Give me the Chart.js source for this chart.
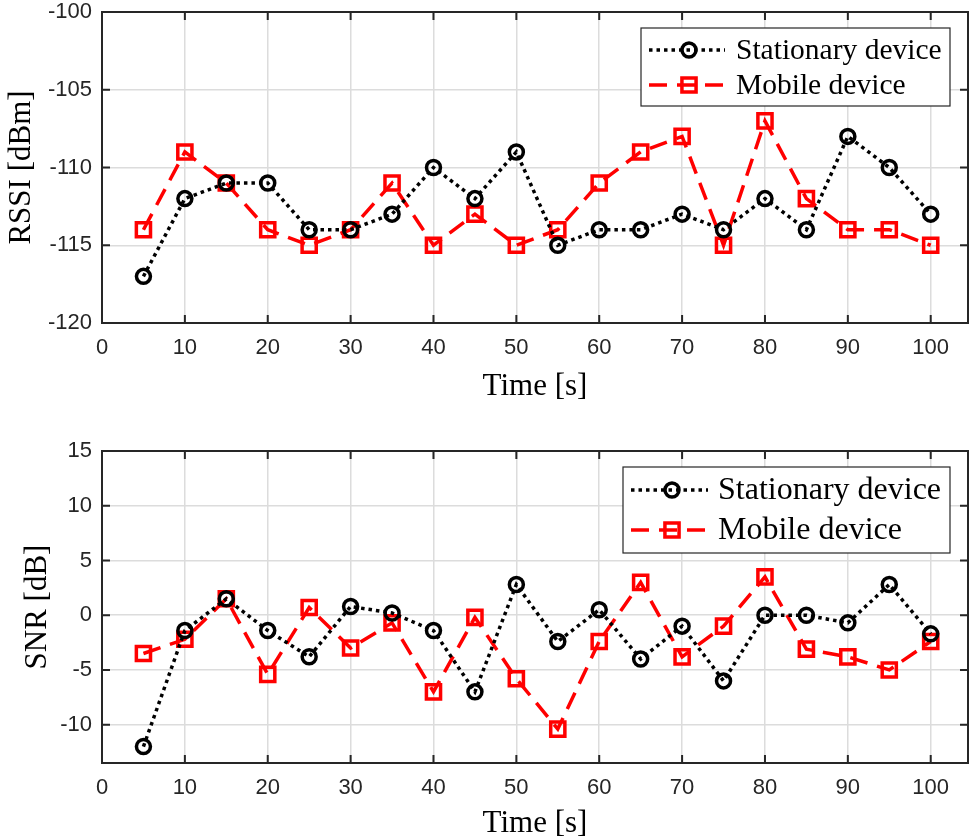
<!DOCTYPE html>
<html>
<head>
<meta charset="utf-8">
<title>RSSI and SNR</title>
<script src="https://cdn.jsdelivr.net/npm/chart.js@4.4.1/dist/chart.umd.min.js"></script>
<style>
    html, body { margin: 0; padding: 0; background: #fff; }
    #wrap { position: relative; width: 970px; height: 840px; }
    #wrap canvas { position: absolute; left: 0; }
</style>
</head>
<body>
<div id="wrap">
    <canvas id="rssi" width="970" height="420" style="top:0"></canvas>
    <canvas id="snr" width="970" height="420" style="top:420px"></canvas>
</div>
<script>
// measurement times
var timeSec = [5, 10, 15, 20, 25, 30, 35, 40, 45, 50, 55, 60, 65, 70, 75, 80, 85, 90, 95, 100];

// RSSI [dBm]
var rssiStationary = [-117, -112, -111, -111, -114, -114, -113, -110, -112, -109, -115, -114, -114, -113, -114, -112, -114, -108, -110, -113];
var rssiMobile = [-114, -109, -111, -114, -115, -114, -111, -115, -113, -115, -114, -111, -109, -108, -115, -107, -112, -114, -114, -115];

// SNR [dB]
var snrStationary = [-12, -1.4, 1.5, -1.4, -3.8, 0.8, 0.2, -1.4, -7, 2.8, -2.4, 0.5, -4, -1, -6, 0, 0, -0.7, 2.8, -1.7];
var snrMobile = [-3.5, -2.2, 1.5, -5.4, 0.7, -3, -0.7, -7, -0.2, -5.8, -10.4, -2.4, 3, -3.8, -1, 3.5, -3.1, -3.8, -5, -2.4];

// tick labels
var timeTicks = [0, 10, 20, 30, 40, 50, 60, 70, 80, 90, 100];
var rssiTicks = [-120, -115, -110, -105, -100];
var snrTicks = [-10, -5, 0, 5, 10, 15];

var seriesNames = ["Stationary device", "Mobile device"];

function pts(ys) {
    return timeSec.map(function (t, i) { return { x: t, y: ys[i] }; });
}

function makeDatasets(stat, mob) {
    return [
        {
            label: seriesNames[0],
            data: pts(stat),
            borderColor: "#000000",
            borderWidth: 3.5,
            borderDash: [3.5, 4],
            pointStyle: "circle",
            pointRadius: 7,
            pointBorderWidth: 3.5,
            pointBorderColor: "#000000",
            pointBackgroundColor: "rgba(0,0,0,0)",
            tension: 0
        },
        {
            label: seriesNames[1],
            data: pts(mob),
            borderColor: "#ff0000",
            borderWidth: 3.5,
            borderDash: [18, 10],
            pointStyle: "rect",
            pointRadius: 10,
            pointBorderWidth: 3.5,
            pointBorderColor: "#ff0000",
            pointBackgroundColor: "rgba(0,0,0,0)",
            tension: 0
        }
    ];
}

// frame box, inward ticks and the legend inside the plot
var framePlugin = {
    id: "frame",
    afterDraw: function (chart) {
        var a = chart.chartArea, ctx = chart.ctx;
        var xs = chart.scales.x, ys = chart.scales.y;
        ctx.save();
        ctx.strokeStyle = "#262626";
        ctx.lineWidth = 2;
        ctx.setLineDash([]);
        ctx.beginPath();
        xs.ticks.forEach(function (t) {
            var px = xs.getPixelForValue(t.value);
            ctx.moveTo(px, a.bottom); ctx.lineTo(px, a.bottom - 8);
            ctx.moveTo(px, a.top); ctx.lineTo(px, a.top + 8);
        });
        ys.ticks.forEach(function (t) {
            var py = ys.getPixelForValue(t.value);
            ctx.moveTo(a.left, py); ctx.lineTo(a.left + 8, py);
            ctx.moveTo(a.right, py); ctx.lineTo(a.right - 8, py);
        });
        ctx.stroke();
        ctx.strokeRect(a.left, a.top, a.right - a.left, a.bottom - a.top);

        var lg = chart.options.plugins.frame;
        if (lg) {
            ctx.fillStyle = "#ffffff";
            ctx.fillRect(lg.box[0], lg.box[1], lg.box[2], lg.box[3]);
            ctx.strokeStyle = "#262626";
            ctx.lineWidth = 1.2;
            ctx.strokeRect(lg.box[0], lg.box[1], lg.box[2], lg.box[3]);
            chart.data.datasets.forEach(function (ds, i) {
                var y = lg.rows[i];
                ctx.strokeStyle = ds.borderColor;
                ctx.lineWidth = ds.borderWidth;
                ctx.setLineDash(ds.borderDash);
                ctx.lineDashOffset = 0;
                ctx.beginPath();
                ctx.moveTo(lg.lineX[0], y);
                ctx.lineTo(lg.lineX[1], y);
                ctx.stroke();
                ctx.setLineDash([]);
                ctx.fillStyle = "rgba(0,0,0,0)";
                ctx.strokeStyle = ds.pointBorderColor;
                ctx.lineWidth = ds.pointBorderWidth;
                Chart.helpers.drawPoint(ctx, {
                    pointStyle: ds.pointStyle,
                    radius: ds.pointRadius,
                    borderWidth: ds.pointBorderWidth,
                    rotation: 0
                }, lg.markX, y);
                ctx.fillStyle = "#000000";
                ctx.font = lg.font + "px 'Liberation Serif', 'Times New Roman', serif";
                ctx.textAlign = "left";
                ctx.textBaseline = "middle";
                ctx.fillText(ds.label, lg.textX, y + 1);
            });
        }
        ctx.restore();
    }
};

function makeChart(id, stat, mob, yMin, yMax, yTicks, yTitle, cfg) {
    var tickFont = { family: "'Liberation Sans', Arial, sans-serif", size: 22 };
    var titleFont = { family: "'Liberation Serif', 'Times New Roman', serif", size: 31 };
    return new Chart(document.getElementById(id), {
        type: "line",
        data: { datasets: makeDatasets(stat, mob) },
        plugins: [framePlugin],
        options: {
            responsive: false,
            animation: false,
            layout: { autoPadding: false, padding: { top: cfg.padTop, right: 2, left: 0, bottom: 0 } },
            plugins: {
                legend: { display: false },
                tooltip: { enabled: false },
                frame: cfg.legend
            },
            scales: {
                x: {
                    type: "linear",
                    min: 0,
                    max: 104.5,
                    afterBuildTicks: function (s) { s.ticks = timeTicks.map(function (v) { return { value: v }; }); },
                    afterFit: function (s) {
                        s.height = cfg.xHeight;
                        s.paddingLeft = 0;
                        s.paddingRight = 0;
                    },
                    ticks: { font: tickFont, color: "#262626", padding: 12, maxRotation: 0, autoSkip: false },
                    grid: { color: "#dcdcdc", lineWidth: 1.5, drawTicks: false },
                    border: { display: false },
                    title: { display: true, text: "Time [s]", font: titleFont, color: "#000", padding: { top: 0, bottom: cfg.xTitlePad } }
                },
                y: {
                    min: yMin,
                    max: yMax,
                    afterBuildTicks: function (s) { s.ticks = yTicks.map(function (v) { return { value: v }; }); },
                    afterFit: function (s) {
                        s.width = 102;
                        s.paddingTop = 0;
                        s.paddingBottom = 0;
                    },
                    ticks: { font: tickFont, color: "#262626", padding: 10, autoSkip: false },
                    grid: { color: "#dcdcdc", lineWidth: 1.5, drawTicks: false },
                    border: { display: false },
                    title: { display: true, text: yTitle, font: titleFont, color: "#000", padding: { top: cfg.yTitlePad, bottom: 0 } }
                }
            }
        }
    });
}

makeChart("rssi", rssiStationary, rssiMobile, -120, -100, rssiTicks, "RSSI [dBm]", {
    padTop: 12, xHeight: 97, xTitlePad: 15, yTitlePad: 3,
    legend: { box: [641, 28, 309, 78], rows: [50, 85], lineX: [649, 725], markX: 689, textX: 736, font: 29.5 }
});

makeChart("snr", snrStationary, snrMobile, -13.5, 15, snrTicks, "SNR [dB]", {
    padTop: 31, xHeight: 77, xTitlePad: -2, yTitlePad: 19,
    legend: { box: [623, 47, 327, 86], rows: [70, 110], lineX: [631, 708], markX: 672, textX: 718, font: 32 }
});
</script>
</body>
</html>
